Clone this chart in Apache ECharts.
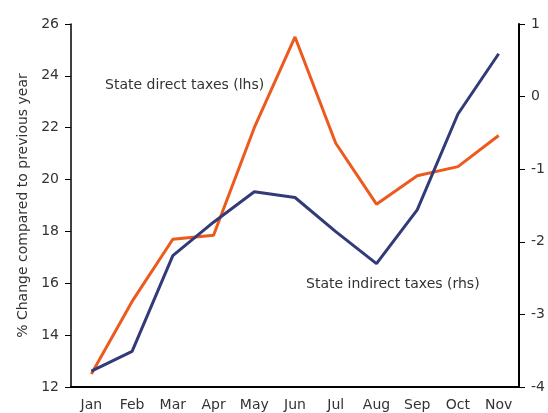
<!DOCTYPE html>
<html>
<head>
<meta charset="utf-8">
<script src="https://cdn.jsdelivr.net/npm/echarts@6/dist/echarts.min.js"></script>
<style>
html,body{margin:0;padding:0;background:#fff;}
#chart{width:548px;height:413px;}
</style>
</head>
<body>
<div id="chart"></div>
<script>
'use strict';
var months = ['Jan','Feb','Mar','Apr','May','Jun','Jul','Aug','Sep','Oct','Nov'];
var directTaxes = [12.5, 15.3, 17.7, 17.85, 22.0, 25.5, 21.4, 19.05, 20.15, 20.5, 21.7]; // lhs
var indirectTaxes = [-3.78, -3.51, -2.19, -1.73, -1.31, -1.39, -1.86, -2.3, -1.56, -0.24, 0.59]; // rhs

var font = '"DejaVu Sans"';
var chart = echarts.init(document.getElementById('chart'));
chart.setOption({
	animation:false,
	grid:{left:71,right:25,top:24,bottom:26},
	textStyle:{fontFamily:font},
	xAxis:{
		type:'category',
		data:months,
		boundaryGap:true,
		axisLine:{onZero:false,lineStyle:{color:'#000',width:2}},
		axisTick:{interval:0,length:5,lineStyle:{color:'#000'}},
		axisLabel:{interval:0,color:'#333',fontSize:14,fontFamily:font,margin:11}
	},
	yAxis:[{
		type:'value',min:12,max:26,interval:2,
		name:'% Change compared to previous year',
		nameLocation:'middle',nameGap:38,nameRotate:90,
		nameTextStyle:{color:'#333',fontSize:14,fontFamily:font},
		axisLine:{show:true,lineStyle:{color:'#000',width:1.5}},
		axisTick:{show:true,length:6,lineStyle:{color:'#000'}},
		axisLabel:{color:'#333',fontSize:14,fontFamily:font,margin:12},
		splitLine:{show:false}
	},{
		type:'value',min:-4,max:1,interval:1,position:'right',
		axisLine:{show:true,lineStyle:{color:'#000',width:2}},
		axisTick:{show:true,length:6,lineStyle:{color:'#000'}},
		axisLabel:{color:'#333',fontSize:14,fontFamily:font,margin:12},
		splitLine:{show:false}
	}],
	series:[{
		name:'State direct taxes (lhs)',
		type:'line',yAxisIndex:0,data:directTaxes,
		symbol:'none',lineStyle:{color:'#ec5a1e',width:3},
		itemStyle:{color:'#ec5a1e'}
	},{
		name:'State indirect taxes (rhs)',
		type:'line',yAxisIndex:1,data:indirectTaxes,
		symbol:'none',lineStyle:{color:'#333a78',width:3},
		itemStyle:{color:'#333a78'}
	}],
	graphic:[{
		type:'text',left:105,top:78,
		style:{text:'State direct taxes (lhs)',fill:'#333',font:'14px '+font}
	},{
		type:'text',left:306,top:277,
		style:{text:'State indirect taxes (rhs)',fill:'#333',font:'14px '+font}
	}]
});
</script>
</body>
</html>
